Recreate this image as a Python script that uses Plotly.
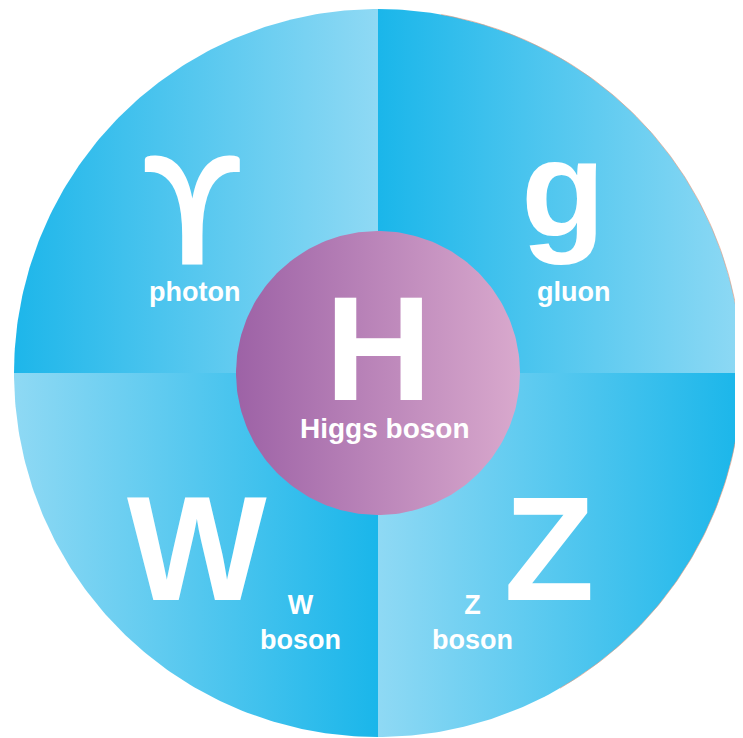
import numpy as np
import plotly.graph_objects as go

# ---- content ----
particles = ["photon", "gluon", "W boson", "Z boson"]
symbols = ["ϒ", "g", "W", "Z"]
name_lines = ["photon", "gluon", "W<br>boson", "Z<br>boson"]
quadrant_colors = [
    ["#1db6ea", "#8fd9f4"],  # top-left
    ["#1ab6ea", "#8ed9f4"],  # top-right
    ["#8fd9f4", "#1ab6ea"],  # bottom-left
    ["#8fd9f4", "#1ab6ea"],  # bottom-right
]
center_symbol = "H"
center_name = "Higgs boson"
center_colors = ["#9d62a6", "#d9a9cd"]

# ---- geometry (page-pixel layout) ----
PAGE_W, PAGE_H = 743, 738
OFF = 8  # default page body margin
cx, cy, R = 378, 373, 364
r_in = 142
quad_angles = [(90, 180), (0, 90), (180, 270), (270, 360)]
sym_pos = [(192, 207), (563, 188), (197, 548), (549, 548)]
sym_fonts = ["Lato, sans-serif", "Liberation Sans, Arial, sans-serif",
             "Liberation Sans, Arial, sans-serif", "Liberation Sans, Arial, sans-serif"]
sym_sizes = [150, 138, 148, 148]
name_pos = [(194, 292), (573, 292), (300, 622), (472, 622)]

fig = go.Figure()

for (a0, a1), cols in zip(quad_angles, quadrant_colors):
    t = np.radians(np.linspace(a0, a1, 120))
    xs = np.concatenate([[cx], cx + R * np.cos(t), [cx]])
    ys = np.concatenate([[cy], cy - R * np.sin(t), [cy]])
    fig.add_trace(go.Scatter(
        x=xs, y=ys, mode="lines", fill="toself",
        line=dict(width=0, color=cols[0]),
        fillgradient=dict(type="horizontal", colorscale=[[0, cols[0]], [1, cols[1]]]),
        hoverinfo="skip", showlegend=False))

# faint rim on the right side
t = np.radians(np.linspace(-60, 80, 200))
fig.add_trace(go.Scatter(x=cx + R * np.cos(t), y=cy - R * np.sin(t), mode="lines",
                         line=dict(width=1, color="rgba(230,150,120,0.6)"),
                         hoverinfo="skip", showlegend=False))

t = np.radians(np.linspace(0, 360, 240))
fig.add_trace(go.Scatter(
    x=cx + r_in * np.cos(t), y=cy - r_in * np.sin(t), mode="lines", fill="toself",
    line=dict(width=0, color=center_colors[0]),
    fillgradient=dict(type="horizontal", colorscale=[[0, center_colors[0]], [1, center_colors[1]]]),
    hoverinfo="skip", showlegend=False))

font_family = "Liberation Sans, Arial, sans-serif"
for s, (x, y), fam, sz in zip(symbols, sym_pos, sym_fonts, sym_sizes):
    fig.add_annotation(x=x, y=y, text=f"<b>{s}</b>", showarrow=False,
                       font=dict(family=fam, size=sz, color="white"),
                       xanchor="center", yanchor="middle")
for n, (x, y) in zip(name_lines, name_pos):
    fig.add_annotation(x=x, y=y, text=f"<b>{n}</b>", showarrow=False,
                       font=dict(family=font_family, size=27, color="white"),
                       xanchor="center", yanchor="middle")

fig.add_annotation(x=378, y=348, text=f"<b>{center_symbol}</b>", showarrow=False,
                   font=dict(family=font_family, size=148, color="white"),
                   xanchor="center", yanchor="middle")
fig.add_annotation(x=385, y=428, text=f"<b>{center_name}</b>", showarrow=False,
                   font=dict(family=font_family, size=28, color="white"),
                   xanchor="center", yanchor="middle")

fig.update_layout(
    width=PAGE_W - OFF, height=PAGE_H - OFF, margin=dict(l=0, r=0, t=0, b=0),
    paper_bgcolor="white", plot_bgcolor="white",
    xaxis=dict(range=[OFF, PAGE_W], visible=False, fixedrange=True),
    yaxis=dict(range=[PAGE_H, OFF], visible=False, fixedrange=True),
)
fig.write_html("out.html")
